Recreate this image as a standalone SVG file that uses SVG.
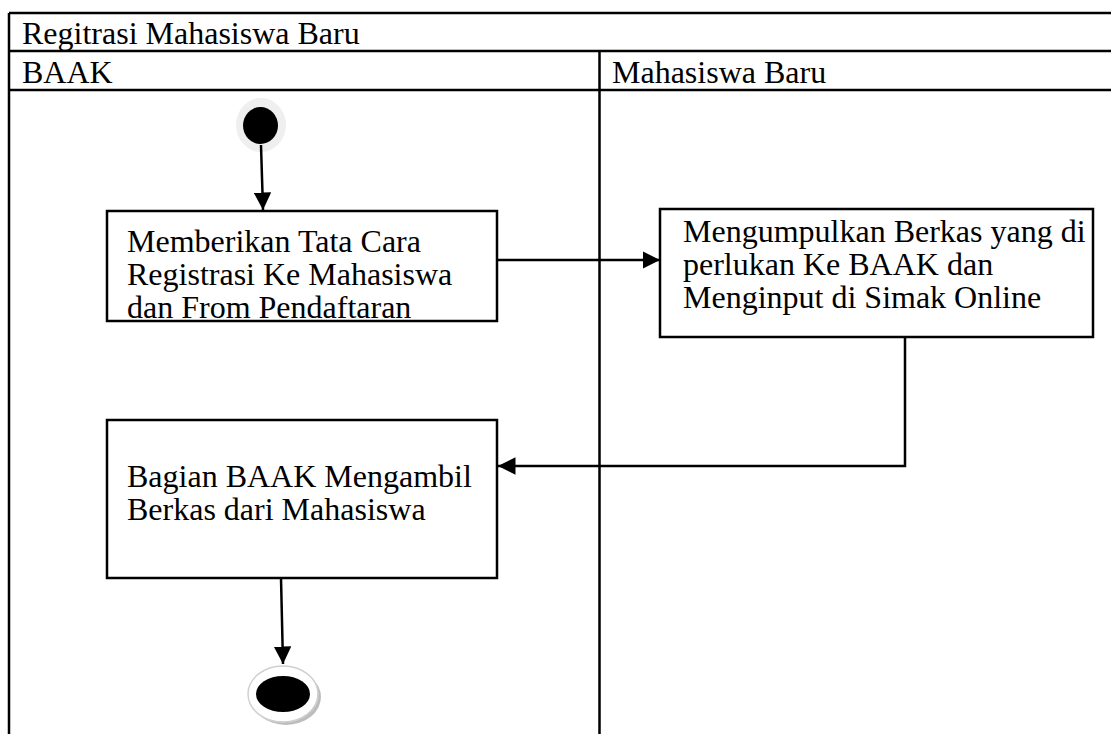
<svg xmlns="http://www.w3.org/2000/svg" width="1111" height="734" viewBox="0 0 1111 734">
<defs>
<style>
.t{font-family:"Liberation Serif","Times New Roman",serif;font-size:32px;fill:#000}
.ln{stroke:#000;stroke-width:2.5;fill:none}
.box{fill:#fff;stroke:#000;stroke-width:2.5}
.con{stroke:#000;stroke-width:2.5;fill:none;marker-end:url(#ah)}
</style>
<marker id="ah" viewBox="0 0 10 10" refX="10" refY="5" markerWidth="7" markerHeight="7" markerUnits="strokeWidth" orient="auto">
<path d="M0,0 L10,5 L0,10 Z" fill="#000"/>
</marker>
</defs>
<rect width="1111" height="734" fill="#fff"/>
<g id="table">
<path class="ln" d="M9,13 H1111 M9,13 V734 M9,51 H1111 M9,90 H1111 M599.5,51 V734"/>
<text class="t" x="22" y="44">Regitrasi Mahasiswa Baru</text>
<text class="t" x="22" y="83">BAAK</text>
<text class="t" x="612" y="83">Mahasiswa Baru</text>
</g>
<g id="start">
<ellipse cx="261" cy="125" rx="25" ry="27" fill="#efefef"/>
<ellipse cx="260.5" cy="125.5" rx="17.5" ry="18.5" fill="#000"/>
</g>
<g id="act1">
<rect class="box" x="107" y="211" width="390" height="110"/>
<text class="t" x="127" y="252">Memberikan Tata Cara</text>
<text class="t" x="127" y="285">Registrasi Ke Mahasiswa</text>
<text class="t" x="127" y="318">dan From Pendaftaran</text>
</g>
<g id="act2">
<rect class="box" x="660" y="209" width="433" height="128"/>
<text class="t" x="683" y="242">Mengumpulkan Berkas yang di</text>
<text class="t" x="683" y="275">perlukan Ke BAAK dan</text>
<text class="t" x="683" y="308">Menginput di Simak Online</text>
</g>
<g id="act3">
<rect class="box" x="107" y="420" width="390" height="158"/>
<text class="t" x="127" y="487">Bagian BAAK Mengambil</text>
<text class="t" x="127" y="520">Berkas dari Mahasiswa</text>
</g>
<g id="end">
<ellipse cx="286" cy="697" rx="35" ry="28" fill="#bdbdbd"/>
<ellipse cx="283" cy="694" rx="35" ry="28" fill="#fff" stroke="#d0d0d0" stroke-width="1.5"/>
<ellipse cx="283" cy="694" rx="27" ry="18" fill="#000"/>
</g>
<g id="connectors">
<path class="con" d="M261,145 L263,210"/>
<path class="con" d="M497,260 H660"/>
<path class="con" d="M905,337 V466 H498"/>
<path class="con" d="M281,578 L283,664"/>
</g>
</svg>
